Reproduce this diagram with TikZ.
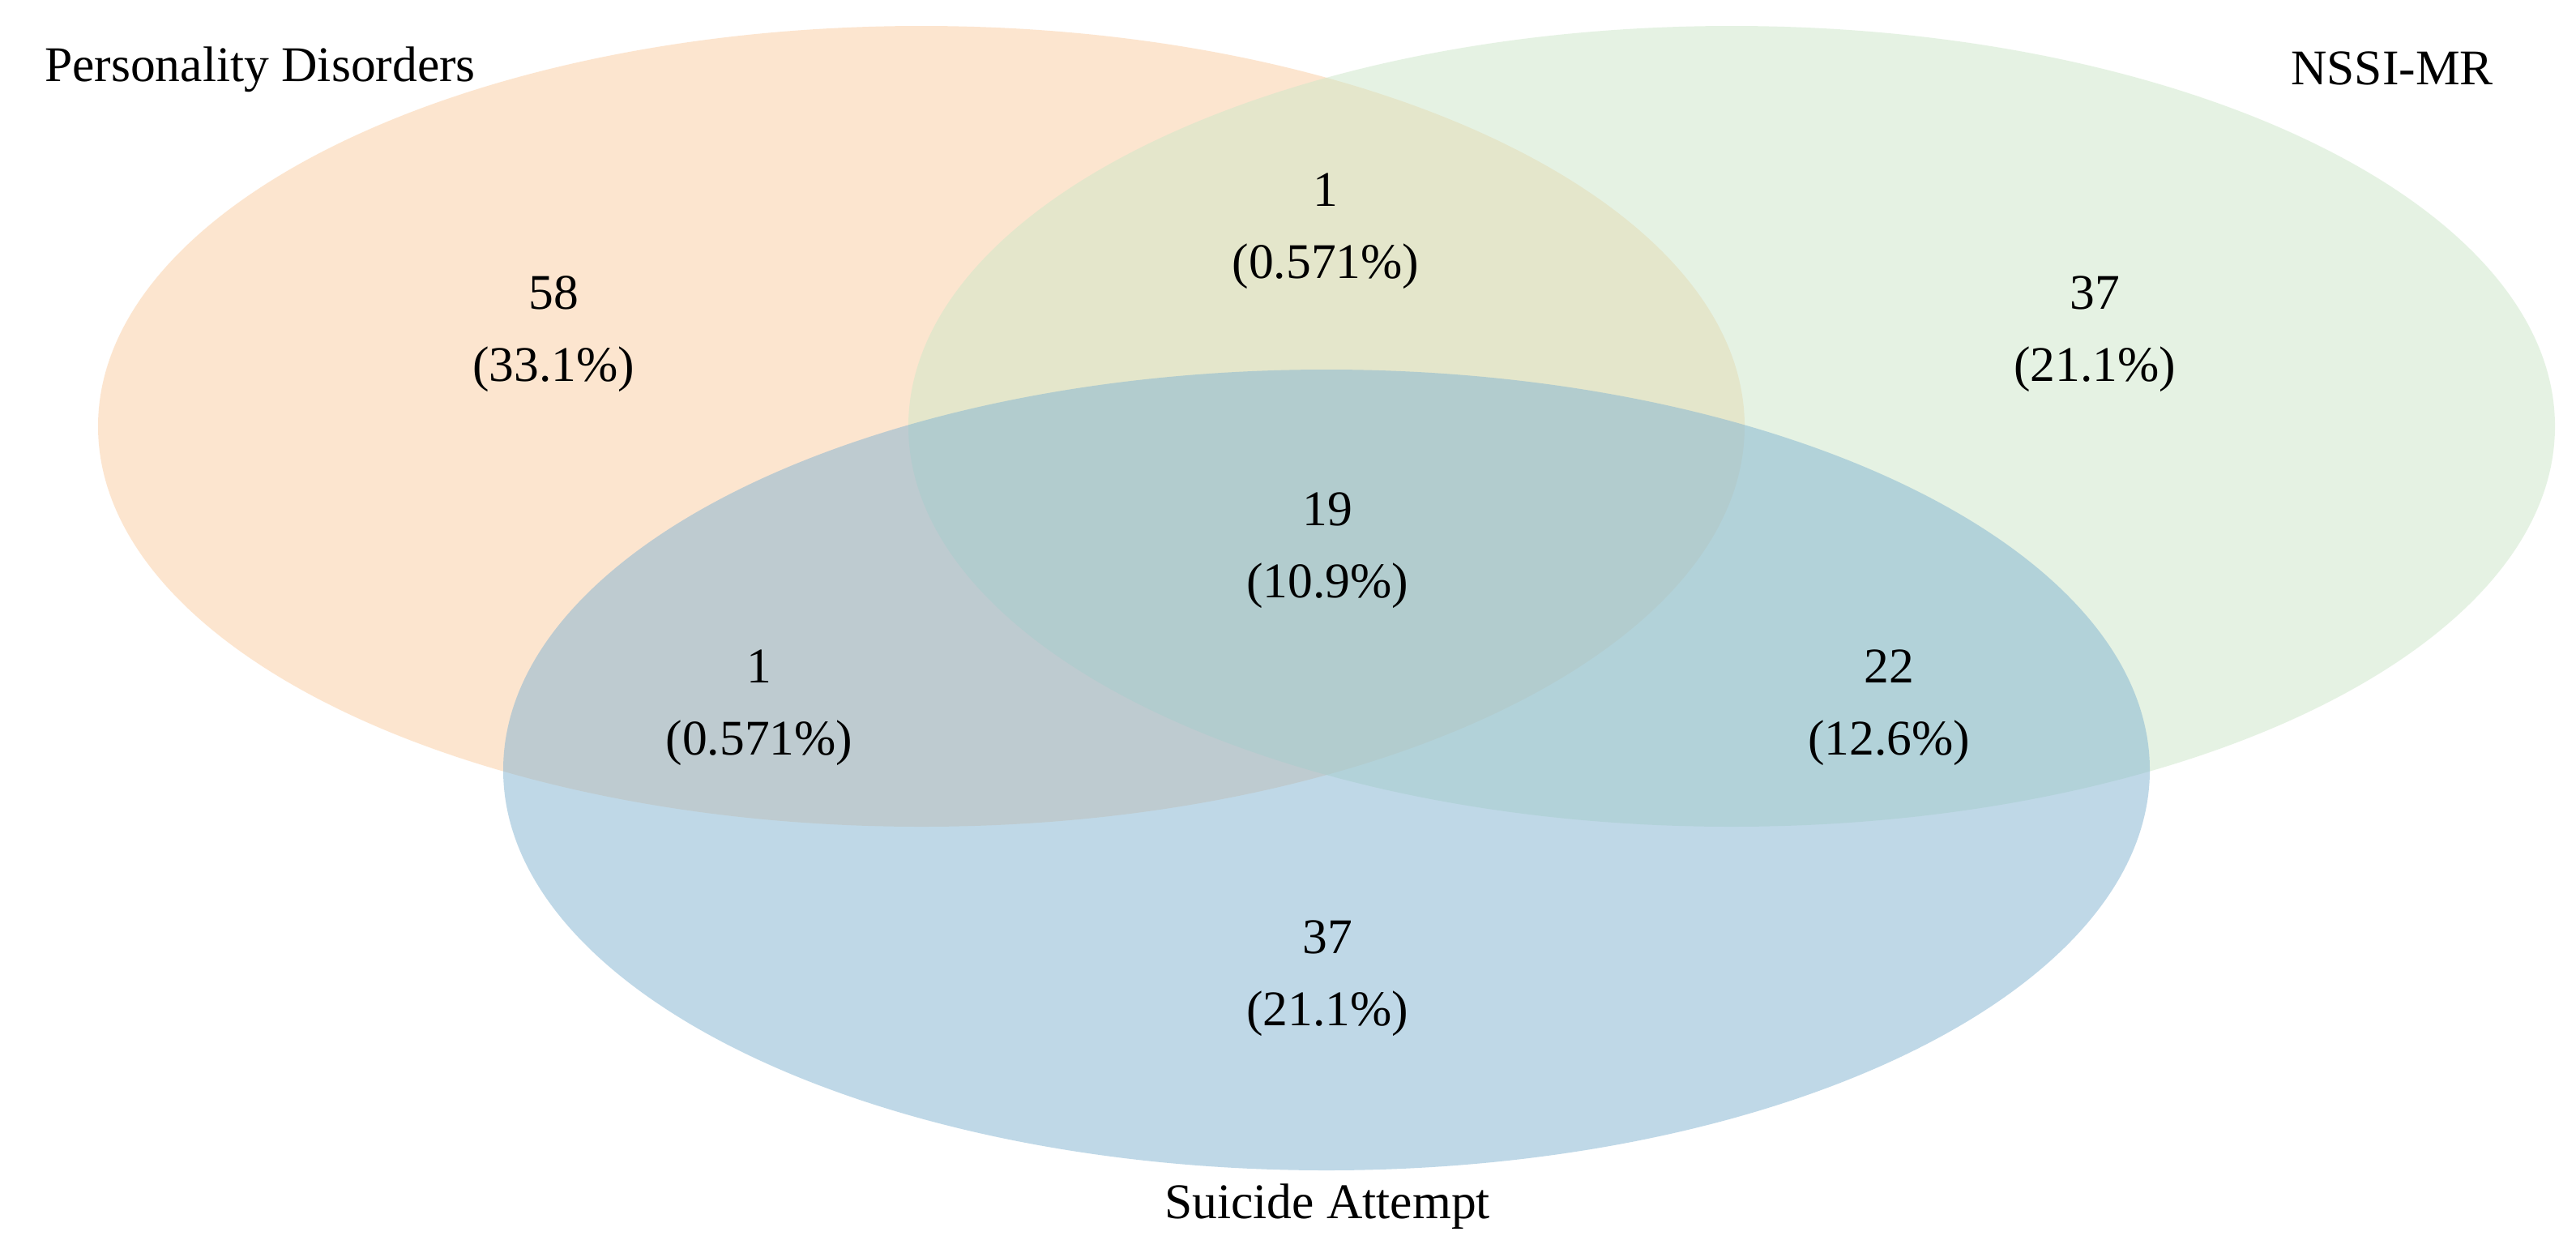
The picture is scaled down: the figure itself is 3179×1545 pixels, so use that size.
\documentclass[tikz,border=0pt]{standalone}
\usepackage{fontspec}
\setmainfont{Liberation Serif}
\definecolor{corange}{RGB}{251,205,161}
\definecolor{cgreen}{RGB}{205,231,201}
\definecolor{cblue}{RGB}{129,179,209}
\tikzset{
  setfill/.style={fill=#1, fill opacity=0.5, draw=none},
  val/.style={align=center, font=\fontsize{17.5}{25.3}\selectfont, inner sep=0pt},
  setname/.style={font=\fontsize{17.5}{21}\selectfont, inner sep=0pt}
}
\begin{document}
\begin{tikzpicture}[x=0.01cm,y=-0.01cm]
\useasboundingbox (0,0) rectangle (3179,1545);
\fill[white] (0,0) rectangle (3179,1545);
\path[setfill=corange] (1137,526) ellipse [x radius=1016, y radius=494];
\path[setfill=cgreen] (2137,526) ellipse [x radius=1016, y radius=494];
\path[setfill=cblue] (1637,950) ellipse [x radius=1016, y radius=494];
\node[setname] (pd) at (321,86) {Personality Disorders};
\node[setname] (nssi) at (2952,84) {NSSI-MR};
\node[setname] (sa) at (1638,1489) {Suicide Attempt};
\node[val] (a) at (683,412) {58\\(33.1\%)};
\node[val] (ab) at (1636,285) {1\\(0.571\%)};
\node[val] (b) at (2585,412) {37\\(21.1\%)};
\node[val] (abc) at (1638,679) {19\\(10.9\%)};
\node[val] (ac) at (937,873) {1\\(0.571\%)};
\node[val] (bc) at (2331,873) {22\\(12.6\%)};
\node[val] (c) at (1638,1207) {37\\(21.1\%)};
\end{tikzpicture}
\end{document}
